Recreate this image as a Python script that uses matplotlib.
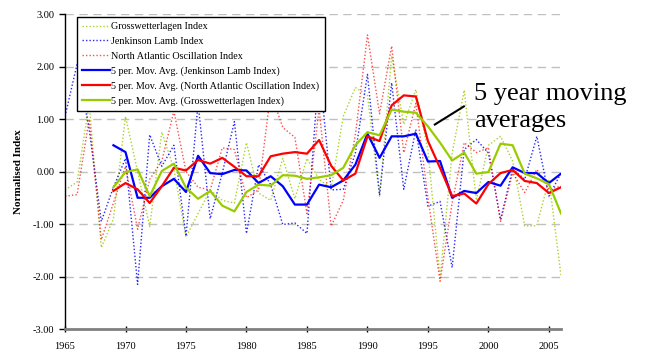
import matplotlib
matplotlib.use("Agg")
import matplotlib.pyplot as plt
import numpy as np

plt.rcParams["font.family"] = ["Liberation Serif", "DejaVu Serif"]

# yearly indices, 1965-2006
years = np.arange(1965, 2007)
gwl = [-0.35, -0.20, 1.30, -1.45, -0.90, 1.05, 0.00, -1.05, 0.75, 0.05,
       -1.25, -0.80, -0.35, -0.55, -0.60, 0.55, -0.41, -0.55, 0.25, -0.52,
       0.25, -0.15, -0.32, 1.05, 1.60, 1.45, -0.47, 2.20, 0.90, 1.56,
       0.40, -2.03, 0.35, 1.55, -0.55, 0.50, 0.67, 0.20, -1.04, -1.03,
       -0.15, -1.99]
jlamb = [1.05, 2.05, 0.80, -0.95, -0.30, 0.25, -2.15, 0.70, 0.10, 0.50,
         -1.23, 1.30, -0.90, -0.03, 0.95, -1.18, 0.13, -0.25, -1.01, -0.98,
         -1.18, 2.00, -0.35, -0.34, 0.35, 1.85, -0.45, 1.69, -0.34, 0.80,
         -0.66, -0.57, -1.83, 0.42, 0.61, 0.35, -0.92, 0.05, -0.15, 0.67,
         -0.47, -0.03]
nao = [-0.47, -0.44, 1.00, -1.30, -0.60, 0.10, -1.10, -0.15, 0.20, 1.15,
       0.00, -0.30, -0.35, 0.45, 0.42, -0.50, -0.35, 1.50, 0.84, 0.65,
       -0.80, 1.20, -1.04, -0.55, 0.70, 2.60, 1.10, 2.39, 0.36, 1.30,
       -0.50, -2.09, -0.60, 0.55, 0.36, 0.45, -0.95, -0.03, -0.40, 0.04,
       -0.34, -0.28]

# 5 period moving averages, 1969-2006
ma_years = np.arange(1969, 2007)
ma_jlamb = [0.50, 0.37, -0.50, -0.50, -0.28, -0.14, -0.39, 0.30, -0.03, -0.05,
            0.03, 0.02, -0.22, -0.09, -0.28, -0.63, -0.63, -0.25, -0.30, -0.17,
            0.13, 0.72, 0.26, 0.67, 0.67, 0.72, 0.19, 0.20, -0.50, -0.37,
            -0.41, -0.20, -0.27, 0.08, -0.03, -0.03, -0.22, -0.04]
ma_nao = [-0.37, -0.22, -0.34, -0.60, -0.28, 0.07, 0.02, 0.22, 0.15, 0.26,
          0.09, -0.09, -0.09, 0.29, 0.34, 0.37, 0.34, 0.60, 0.11, -0.17,
          -0.04, 0.67, 0.58, 1.26, 1.45, 1.43, 0.58, 0.07, -0.47, -0.42,
          -0.61, -0.24, -0.03, 0.03, -0.18, -0.22, -0.41, -0.30]
ma_gwl = [-0.30, -0.01, 0.04, -0.47, 0.01, 0.15, -0.31, -0.52, -0.37, -0.65,
          -0.76, -0.39, -0.25, -0.27, -0.07, -0.08, -0.14, -0.11, -0.07, 0.07,
          0.50, 0.75, 0.69, 1.18, 1.14, 1.12, 0.86, 0.55, 0.21, 0.36,
          -0.04, -0.01, 0.53, 0.50, -0.04, -0.13, -0.24, -0.80]

BLUE = "#0000FF"
RED = "#FF0000"
GREEN = "#99CC00"
dots = (0, (1, 1.5))

fig = plt.figure(figsize=(6.45, 3.54), dpi=100)
ax = fig.add_axes([0.1008, 0.0706, 0.769, 0.8898])

ax.plot(years, gwl, color=GREEN, lw=1.0, ls=dots, alpha=0.85, label="Grosswetterlagen Index")
ax.plot(years, jlamb, color=BLUE, lw=1.0, ls=dots, alpha=0.85, label="Jenkinson Lamb Index")
ax.plot(years, nao, color=RED, lw=1.0, ls=dots, alpha=0.7, label="North Atlantic Oscillation Index")
ax.plot(ma_years, ma_jlamb, color=BLUE, lw=1.6, label="5 per. Mov. Avg. (Jenkinson Lamb Index)")
ax.plot(ma_years, ma_nao, color=RED, lw=1.6, label="5 per. Mov. Avg. (North Atlantic Oscillation Index)")
ax.plot(ma_years, ma_gwl, color=GREEN, lw=1.6, label="5 per. Mov. Avg. (Grosswetterlagen Index)")

ax.set_xlim(1965, 2006)
ax.set_ylim(-3, 3)
ax.set_xticks(np.arange(1965, 2006, 5))
ax.set_yticks(np.arange(-3, 4, 1))
ax.set_yticklabels([f"{v:.2f}" for v in np.arange(-3, 4, 1)])
ax.tick_params(axis="both", labelsize=7.5, length=4, width=1)
ax.tick_params(axis="x", direction="inout", length=5, pad=7)

for y in range(-2, 4):
    ax.axhline(y, color="#C0C0C0", lw=1, ls=(0, (6, 4)), zorder=0)

ax.spines["top"].set_visible(False)
ax.spines["right"].set_visible(False)
ax.spines["bottom"].set_color("#808080")
ax.spines["bottom"].set_linewidth(2)
ax.spines["left"].set_linewidth(1)

ax.set_ylabel("Normalised Index", fontsize=8, fontweight="bold", labelpad=7)

leg = ax.legend(loc="upper left", bbox_to_anchor=(0.024, 0.99), borderaxespad=0,
                fontsize=7.3, frameon=True, fancybox=False, framealpha=1,
                edgecolor="black", handlelength=2.8, handletextpad=0.1,
                labelspacing=0.55, borderpad=0.5)
leg.get_frame().set_linewidth(1)
leg.set_zorder(5)

# annotation pointing at the moving averages
ax.text(1998.8, 0.84, "5 year moving\naverages", fontsize=19, va="baseline",
        ha="left", linespacing=1.3, clip_on=False)
ax.plot([1995.57, 1997.97], [0.895, 1.24], color="black", lw=1.5, clip_on=False)

fig.savefig("out.png", dpi=100)
